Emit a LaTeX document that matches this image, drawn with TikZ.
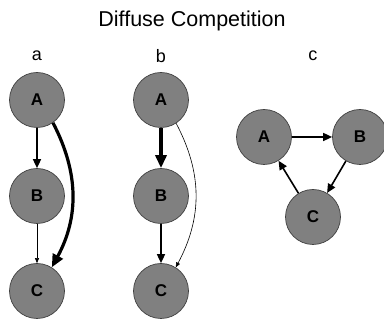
\documentclass[tikz,border=0pt]{standalone}
\usepackage{fontspec}
\setmainfont{Liberation Sans}
\usetikzlibrary{arrows.meta}
\begin{document}
\begin{tikzpicture}[x=1pt,y=1pt,
  nd/.style={circle,draw=black!75,line width=0.7pt,fill=black!50,minimum size=55pt,inner sep=0pt,font=\fontsize{17}{17}\selectfont\bfseries},
  lbl/.style={font=\fontsize{18}{18}\selectfont},
  thinA/.style={line width=0.6pt,-{Triangle[length=5pt,width=4pt]}},
  medA/.style={line width=1.6pt,-{Triangle[length=9pt,width=8pt]}},
  thickA/.style={line width=3.2pt,-{Triangle[length=13pt,width=11pt]}}]
\useasboundingbox (0,0) rectangle (384,320);
\node[font=\fontsize{21.5}{21.5}\selectfont] (title) at (192,299) {Diffuse Competition};
\node[lbl] (la) at (37,264) {a};
\node[lbl] (lb) at (161,264) {b};
\node[lbl] (lc) at (313,264) {c};
% a
\node[nd] (aA) at (37,220) {A};
\node[nd] (aB) at (37,124) {B};
\node[nd] (aC) at (37,29) {C};
\draw[medA] (aA) -- (aB);
\draw[thinA] (aB) -- (aC);
\draw[thickA] (aA.-55) to[bend left=28] (aC.58);
% b
\node[nd] (bA) at (161,220) {A};
\node[nd] (bB) at (161,124) {B};
\node[nd] (bC) at (161,29) {C};
\draw[thickA] (bA) -- (bB);
\draw[medA] (bB) -- (bC);
\draw[thinA] (bA.-57) to[bend left=28] (bC.58);
% c
\node[nd] (cA) at (264,183) {A};
\node[nd] (cB) at (360,183) {B};
\node[nd] (cC) at (313,103) {C};
\draw[medA] (cA) -- (cB);
\draw[medA] (cB) -- (cC);
\draw[medA] (cC) -- (cA);
\end{tikzpicture}
\end{document}
